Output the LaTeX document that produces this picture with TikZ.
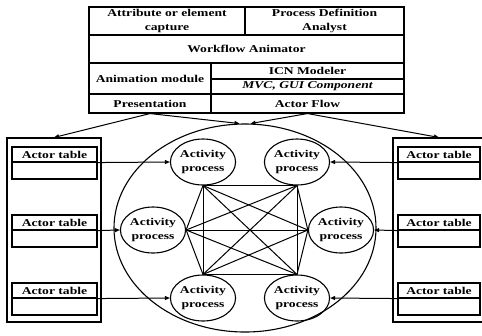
\documentclass[tikz,border=0pt]{standalone}
\usepackage{fontspec}
\setmainfont{Liberation Serif}[FakeStretch=1.3]
\usetikzlibrary{arrows.meta,shapes.geometric}
\newcommand{\tf}{\fontsize{10.5}{13.5}\selectfont\bfseries}
\begin{document}
\begin{tikzpicture}[x=1bp,y=-1bp,
  cell/.style={draw, line width=1.1bp, inner sep=0pt, align=center, font=\tf},
  act/.style={draw, ellipse, line width=1.1bp, inner sep=0pt, minimum width=54bp, minimum height=46bp, align=center, font=\tf},
  lab/.style={cell, minimum height=15bp},
  low/.style={cell, minimum height=17bp},
  arr/.style={-{Triangle[length=5bp,width=4bp]}, line width=1bp},
  mesh/.style={line width=1bp}]
\useasboundingbox (0,0) rectangle (482,335);
\clip (0,0) rectangle (482,335);
% top box
\node[cell, minimum width=156bp, minimum height=28bp] (attr) at (167,21) {Attribute or element\\capture};
\node[cell, minimum width=159bp, minimum height=28bp] (pda) at (324.5,21) {Process Definition\\Analyst};
\node[cell, minimum width=315bp, minimum height=28bp] (wfa) at (246.5,49) {Workflow Animator};
\node[cell, minimum width=122bp, minimum height=31bp] (anim) at (150,78.5) {Animation module};
\node[cell, minimum width=193bp, minimum height=16bp] (icn) at (307.5,71) {ICN Modeler};
\node[cell, minimum width=193bp, minimum height=15bp] (mvc) at (307.5,86.5) {\itshape MVC, GUI Component};
\node[cell, minimum width=122bp, minimum height=19bp] (pres) at (150,103.5) {Presentation};
\node[cell, minimum width=193bp, minimum height=19bp] (flow) at (307.5,103.5) {Actor Flow};
% panels
\node[cell, minimum width=94bp, minimum height=184bp] (lpanel) at (54,230) {};
\node[cell, minimum width=92bp, minimum height=184bp] (rpanel) at (439,230) {};
% actor tables left
\node[lab, minimum width=85bp] (lt1) at (54.5,154.5) {Actor table};
\node[low, minimum width=85bp] (lt1x) at (54.5,170.5) {};
\node[lab, minimum width=85bp] (lt2) at (54.5,222.5) {Actor table};
\node[low, minimum width=85bp] (lt2x) at (54.5,238.5) {};
\node[lab, minimum width=85bp] (lt3) at (54.5,290.5) {Actor table};
\node[low, minimum width=85bp] (lt3x) at (54.5,306.5) {};
% actor tables right
\node[lab, minimum width=82bp] (rt1) at (439,154.5) {Actor table};
\node[low, minimum width=82bp] (rt1x) at (439,170.5) {};
\node[lab, minimum width=82bp] (rt2) at (439,222.5) {Actor table};
\node[low, minimum width=82bp] (rt2x) at (439,238.5) {};
\node[lab, minimum width=82bp] (rt3) at (439,290.5) {Actor table};
\node[low, minimum width=82bp] (rt3x) at (439,306.5) {};
% big ellipse
\node[draw, ellipse, line width=1.1bp, minimum width=262bp, minimum height=208bp, inner sep=0pt] (big) at (245,228) {};
% activity processes
\node[act] (tl) at (203,162) {Activity\\process};
\node[act] (tr) at (297,162) {Activity\\process};
\node[act] (ml) at (153,230) {Activity\\process};
\node[act] (mr) at (341,230) {Activity\\process};
\node[act] (bl) at (203,298) {Activity\\process};
\node[act] (br) at (297,298) {Activity\\process};
% mesh
\draw[mesh] (tl.south) -- (tr.south);
\draw[mesh] (tl.south) -- (ml.east);
\draw[mesh] (tl.south) -- (mr.west);
\draw[mesh] (tl.south) -- (bl.north);
\draw[mesh] (tl.south) -- (br.north);
\draw[mesh] (tr.south) -- (ml.east);
\draw[mesh] (tr.south) -- (mr.west);
\draw[mesh] (tr.south) -- (bl.north);
\draw[mesh] (tr.south) -- (br.north);
\draw[mesh] (ml.east) -- (mr.west);
\draw[mesh] (ml.east) -- (bl.north);
\draw[mesh] (ml.east) -- (br.north);
\draw[mesh] (mr.west) -- (bl.north);
\draw[mesh] (mr.west) -- (br.north);
\draw[mesh] (bl.north) -- (br.north);
% table arrows
\draw[arr] (lt1.south east) -- (tl.west);
\draw[arr] (lt2.south east) -- (ml.west);
\draw[arr] (lt3.south east) -- (bl.west);
\draw[arr] (rt1.south west) -- (tr.east);
\draw[arr] (rt2.south west) -- (mr.east);
\draw[arr] (rt3.south west) -- (br.east);
% top arrows
\draw[arr] (pres.south) -- (lpanel.north);
\draw[arr] (pres.south) -- (big.93);
\draw[arr] (flow.south) -- (big.87);
\draw[arr] (flow.south) -- (rpanel.north);
\end{tikzpicture}
\end{document}
